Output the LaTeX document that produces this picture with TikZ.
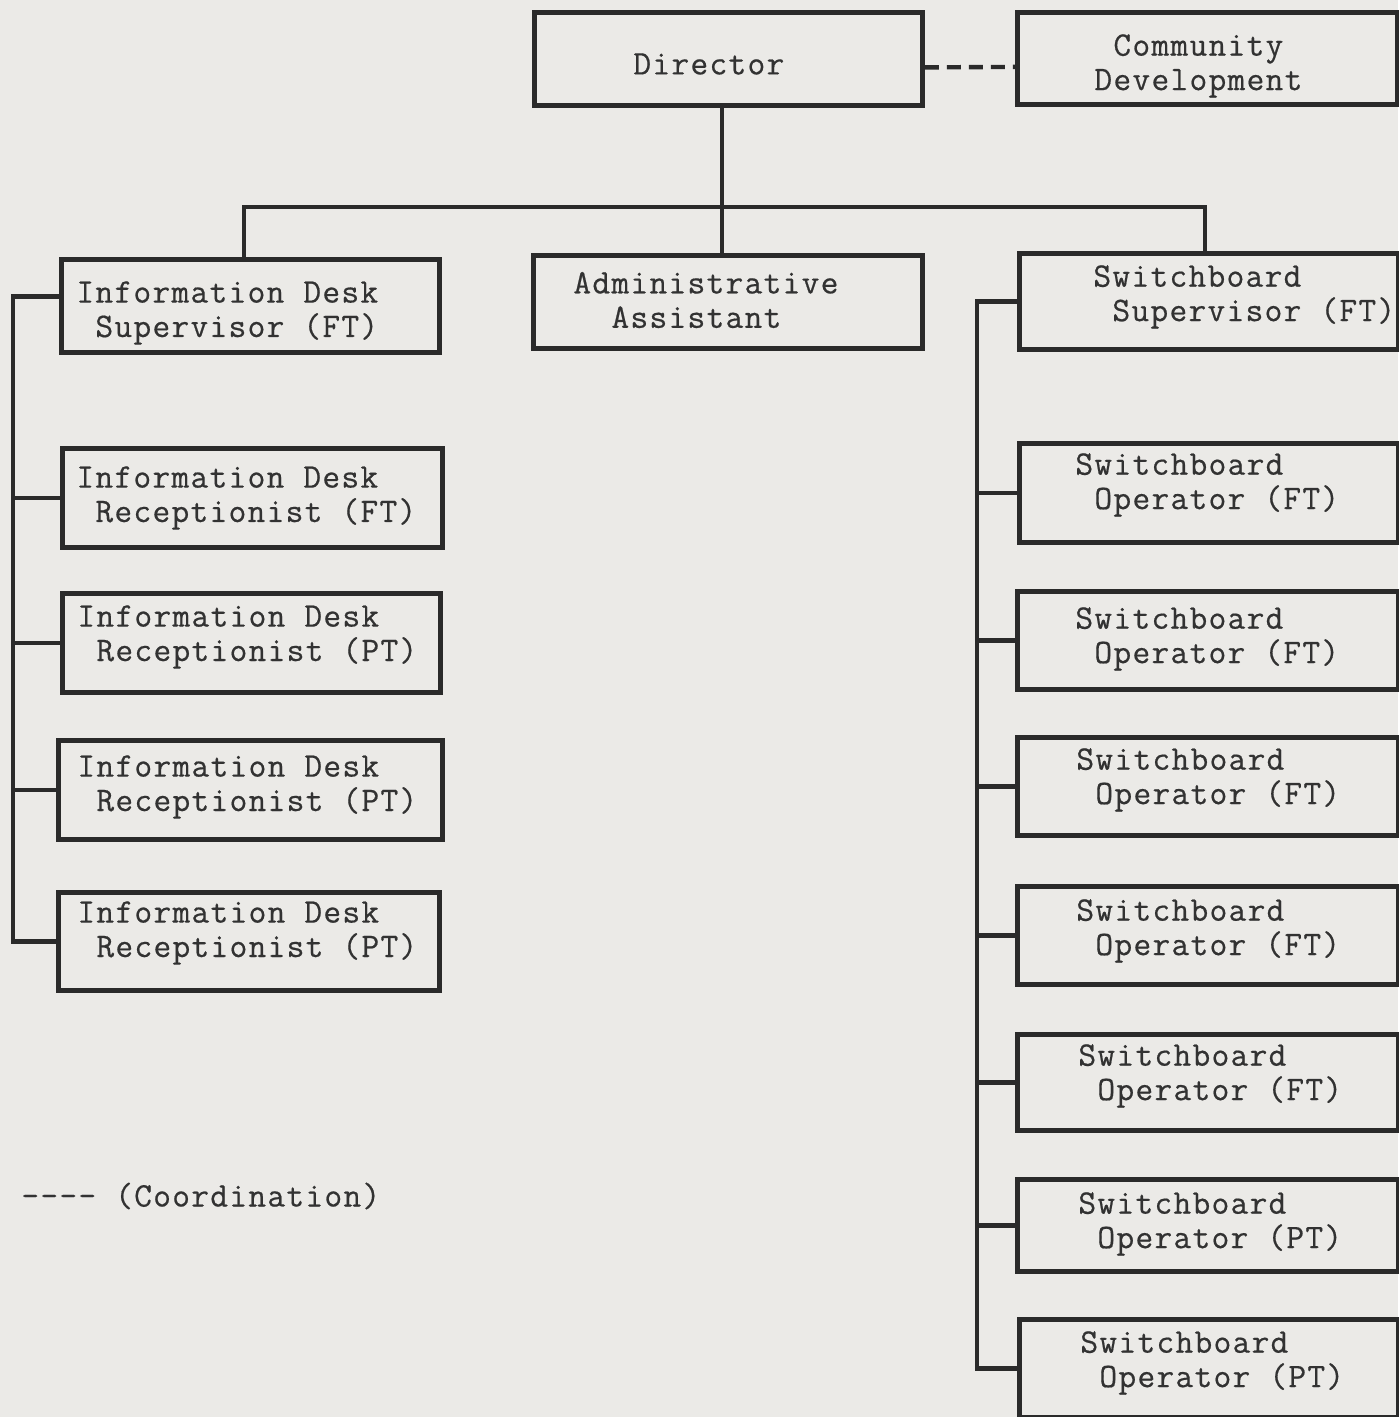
\documentclass[tikz,border=0pt]{standalone}
\usepackage{fontspec}
\newfontfamily\tw{Latin Modern Mono}[FakeBold=0.5,LetterSpace=3.8]
\definecolor{paper}{RGB}{235,234,231}
\definecolor{ink}{RGB}{42,42,42}
\definecolor{txt}{RGB}{50,50,50}
\begin{document}
\begin{tikzpicture}[x=0.5pt,y=-0.5pt,
  bx/.style 2 args={draw=ink, line width=2.4pt, minimum width=#1, minimum height=#2, inner sep=0pt, anchor=north west},
  lbl/.style={anchor=west, inner sep=0pt, align=left, text=txt, font=\tw\fontsize{17.2pt}{17.2pt}\selectfont},
  conn/.style={draw=ink, line width=2.2pt},
  coordline/.style={conn, dash pattern=on 7pt off 4pt}]
\fill[paper] (0,0) rectangle (1398,1417);
\path[use as bounding box] (0,0) rectangle (1398,1417);

% top row
\node[bx={194pt}{46.5pt}] (dir) at (532,10) {};
\node[lbl] (dirT) at (633,64) {Director};
\node[bx={190pt}{46pt}] (comm) at (1015,10) {};
\node[lbl] (commT) at (1094,66) {~Community\\Development};

% second row
\node[bx={189pt}{46.5pt}] (ids) at (59,257) {};
\node[lbl] (idsT) at (76,313) {Information Desk\\~Supervisor (FT)};
\node[bx={194.5pt}{46.5pt}] (adm) at (531,253) {};
\node[lbl] (admT) at (573,300) {Administrative\\~~Assistant};
\node[bx={189.5pt}{48pt}] (sbs) at (1017,251) {};
\node[lbl] (sbsT) at (1093,297) {Switchboard\\~Supervisor (FT)};

% information desk receptionists
\node[bx={190pt}{49.5pt}] (rec1) at (60,446) {};
\node[lbl] (rec1T) at (76,498) {Information Desk\\~Receptionist (FT)};
\node[bx={189pt}{49.5pt}] (rec2) at (60,591) {};
\node[lbl] (rec2T) at (77,637) {Information Desk\\~Receptionist (PT)};
\node[bx={192pt}{49.5pt}] (rec3) at (56,738) {};
\node[lbl] (rec3T) at (77,787) {Information Desk\\~Receptionist (PT)};
\node[bx={190.5pt}{49pt}] (rec4) at (56,890) {};
\node[lbl] (rec4T) at (77,933) {Information Desk\\~Receptionist (PT)};

% switchboard operators
\node[bx={189.5pt}{49.5pt}] (op1) at (1017,441) {};
\node[lbl] (op1T) at (1075,485) {Switchboard\\~Operator (FT)};
\node[bx={190.5pt}{49pt}] (op2) at (1015,589) {};
\node[lbl] (op2T) at (1075,639) {Switchboard\\~Operator (FT)};
\node[bx={190.5pt}{49pt}] (op3) at (1015,735) {};
\node[lbl] (op3T) at (1076,780) {Switchboard\\~Operator (FT)};
\node[bx={190.5pt}{49pt}] (op4) at (1015,884) {};
\node[lbl] (op4T) at (1076,931) {Switchboard\\~Operator (FT)};
\node[bx={190.5pt}{48pt}] (op5) at (1015,1032) {};
\node[lbl] (op5T) at (1078,1076) {Switchboard\\~Operator (FT)};
\node[bx={190.5pt}{46pt}] (op6) at (1015,1177) {};
\node[lbl] (op6T) at (1078,1224) {Switchboard\\~Operator (PT)};
\node[bx={189.5pt}{49pt}] (op7) at (1017,1317) {};
\node[lbl] (op7T) at (1080,1363) {Switchboard\\~Operator (PT)};

% legend
\node[lbl] (leg) at (21,1196) {-{}-{}-{}- (Coordination)};

% connectors
\coordinate (tb) at (722,207);
\coordinate (tl) at (244,207);
\coordinate (tr) at (1205,207);
\draw[conn] (dir.south -| tb) -- (adm.north -| tb);
\draw[conn] (ids.north -| tl) -- (tl) -- (tr) -- (sbs.north -| tr);
\draw[coordline] ([yshift=-4.25pt]dir.east) -- ([yshift=-4.25pt]comm.west);

\coordinate (lx) at (13,0);
\coordinate (idsc) at ([yshift=4.75pt]ids.west);
\draw[conn] (idsc) -- (idsc -| lx) -- (rec4.west -| lx) -- (rec4.west);
\foreach \b in {rec1,rec2,rec3} \draw[conn] (\b.west -| lx) -- (\b.west);

\coordinate (rx) at (977,0);
\draw[conn] (sbs.west) -- (sbs.west -| rx) -- (op7.west -| rx) -- (op7.west);
\foreach \b in {op1,op2,op3,op4,op5,op6} \draw[conn] (\b.west -| rx) -- (\b.west);
\end{tikzpicture}
\end{document}
